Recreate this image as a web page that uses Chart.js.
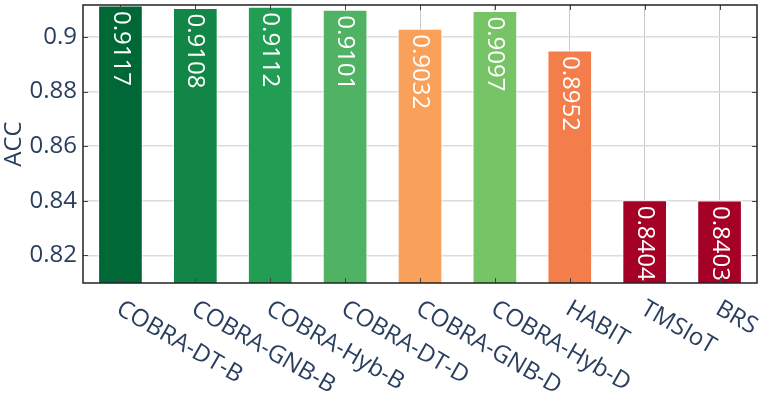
<!DOCTYPE html>
<html>
<head>
<meta charset="utf-8">
<script src="https://cdn.jsdelivr.net/npm/chart.js@4"></script>
<style>
    html, body { margin: 0; padding: 0; background: #fff; }
    #wrap { width: 763px; height: 394px; }
</style>
</head>
<body>
<div id="wrap"><canvas id="accChart"></canvas></div>
<script>
// =====================
// Data
// =====================
const models = ["COBRA-DT-B", "COBRA-GNB-B", "COBRA-Hyb-B", "COBRA-DT-D", "COBRA-GNB-D", "COBRA-Hyb-D", "HABIT", "TMSIoT", "BRS"];
const accValues = [0.9117, 0.9108, 0.9112, 0.9101, 0.9032, 0.9097, 0.8952, 0.8404, 0.8403];
const accLabels = ["0.9117", "0.9108", "0.9112", "0.9101", "0.9032", "0.9097", "0.8952", "0.8404", "0.8403"];
const barColors = ["#006837", "#118647", "#229e54", "#50b263", "#f9a05a", "#77c467", "#f47e4b", "#a50026", "#a50026"];
const yTicks = [0.82, 0.84, 0.86, 0.88, 0.9];
const yTickLabels = ["0.82", "0.84", "0.86", "0.88", "0.9"];

const textColor = "#2a3f5f";
const fontFamily = "'Open Sans', sans-serif";
const fontSize = 24;

// =====================
// Plugins
// =====================
// white value text inside the top of each bar
const barText = {
    id: "barText",
    afterDatasetsDraw(chart) {
        const ctx = chart.ctx;
        const meta = chart.getDatasetMeta(0);
        ctx.save();
        ctx.fillStyle = "#fff";
        ctx.font = fontSize + "px " + fontFamily;
        ctx.textAlign = "left";
        ctx.textBaseline = "middle";
        meta.data.forEach((bar, i) => {
            const top = Math.max(bar.y, chart.chartArea.top);
            ctx.save();
            ctx.translate(bar.x, top + 6);
            ctx.rotate(Math.PI / 2);
            ctx.fillText(accLabels[i], 0, 0);
            ctx.restore();
        });
        ctx.restore();
    }
};

// frame, inward ticks and slanted category labels
const frame = {
    id: "frame",
    afterDraw(chart) {
        const ctx = chart.ctx;
        const a = chart.chartArea;
        const x = chart.scales.x;
        const y = chart.scales.y;
        ctx.save();
        ctx.strokeStyle = "#444";
        ctx.lineWidth = 1;
        ctx.beginPath();
        models.forEach((m, i) => {
            const px = Math.round(x.getPixelForValue(i)) + 0.5;
            ctx.moveTo(px, a.bottom); ctx.lineTo(px, a.bottom - 5);
            ctx.moveTo(px, a.top); ctx.lineTo(px, a.top + 5);
        });
        yTicks.forEach(v => {
            const py = Math.round(y.getPixelForValue(v)) + 0.5;
            ctx.moveTo(a.left, py); ctx.lineTo(a.left + 5, py);
            ctx.moveTo(a.right, py); ctx.lineTo(a.right - 5, py);
        });
        ctx.stroke();

        ctx.strokeStyle = "#222";
        ctx.lineWidth = 1.5;
        ctx.strokeRect(a.left, a.top, a.right - a.left, a.bottom - a.top);

        ctx.fillStyle = textColor;
        ctx.font = fontSize + "px " + fontFamily;
        ctx.textAlign = "left";
        ctx.textBaseline = "middle";
        models.forEach((m, i) => {
            ctx.save();
            ctx.translate(x.getPixelForValue(i) - 2, a.bottom + 24);
            ctx.rotate(Math.PI / 6);
            ctx.fillText(m, 0, 0);
            ctx.restore();
        });
        ctx.restore();
    }
};

// =====================
// Chart
// =====================
new Chart(document.getElementById("accChart"), {
    type: "bar",
    data: {
        labels: models,
        datasets: [{
            data: accValues,
            backgroundColor: barColors,
            borderColor: "rgba(255,255,255,0.45)",
            borderWidth: 1.5,
            borderSkipped: false,
            barPercentage: 0.61,
            categoryPercentage: 1
        }]
    },
    options: {
        responsive: true,
        maintainAspectRatio: false,
        animation: false,
        layout: { padding: { top: 5, right: 6, left: 0, bottom: 0 } },
        plugins: { legend: { display: false }, tooltip: { enabled: false } },
        scales: {
            x: {
                offset: true,
                grid: { offset: false, color: "#c8c8c8", lineWidth: 1, drawTicks: false },
                border: { display: false },
                ticks: { display: false },
                afterFit: s => { s.height = 111; s.paddingLeft = 0; s.paddingRight = 0; }
            },
            y: {
                min: 0.8099,
                max: 0.9117,
                grid: { color: "#dcdcdc", lineWidth: 1.5, drawTicks: false },
                border: { display: false },
                ticks: {
                    color: textColor,
                    font: { family: fontFamily, size: fontSize },
                    padding: 6,
                    callback: (v, i) => yTickLabels[i]
                },
                afterBuildTicks: s => { s.ticks = yTicks.map(v => ({ value: v })); },
                afterFit: s => { s.width = 83; s.paddingTop = 0; s.paddingBottom = 0; },
                title: {
                    display: true,
                    text: "ACC",
                    color: textColor,
                    font: { family: fontFamily, size: fontSize },
                    padding: 0
                }
            }
        }
    },
    plugins: [barText, frame]
});
</script>
</body>
</html>
